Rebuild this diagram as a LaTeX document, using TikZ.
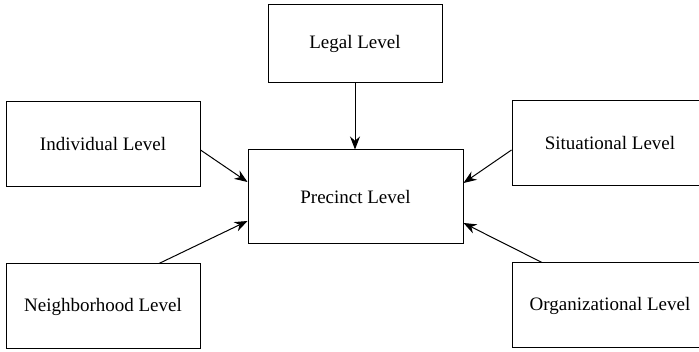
\documentclass[tikz,border=0pt]{standalone}
\usepackage{fontspec}
\setmainfont{Liberation Serif}
\usetikzlibrary{arrows.meta}
\begin{document}
\begin{tikzpicture}[x=1pt,y=-1pt,
  lvl/.style={draw,line width=1pt,inner sep=0pt,font=\fontsize{19}{22}\selectfont},
  conn/.style={line width=1pt,-{Stealth[length=13pt,width=10pt]}}]
\clip (0,0) rectangle (699,352);
\fill[white] (0,0) rectangle (699,352);
\node[lvl,minimum width=174pt,minimum height=78pt] (leg) at (355,44) {Legal Level};
\node[lvl,minimum width=215pt,minimum height=94pt] (pre) at (355.5,197) {Precinct Level};
\node[lvl,minimum width=194pt,minimum height=85pt] (ind) at (103,144.5) {Individual Level};
\node[lvl,minimum width=194pt,minimum height=85pt] (nei) at (103,306.5) {Neighborhood Level};
\node[lvl,minimum width=196pt,minimum height=85pt] (sit) at (610,143.5) {Situational Level};
\node[lvl,minimum width=196pt,minimum height=85pt] (org) at (610,305.5) {Organizational Level};
\draw[conn] (leg.south) -- (leg.south |- pre.north);
\draw[conn] ([yshift=-5.5pt]ind.east) -- ([yshift=15pt]pre.west);
\draw[conn] ([xshift=56pt]nei.north) -- ([yshift=-24pt]pre.west);
\draw[conn] ([yshift=-6.5pt]sit.west) -- ([yshift=14pt]pre.east);
\draw[conn] ([xshift=-68pt]org.north) -- ([yshift=-26pt]pre.east);
\end{tikzpicture}
\end{document}
